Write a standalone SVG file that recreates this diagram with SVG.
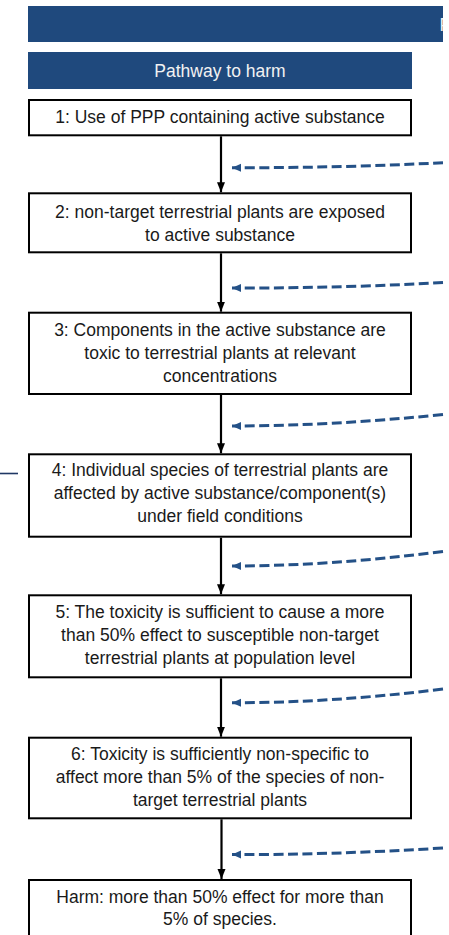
<svg xmlns="http://www.w3.org/2000/svg" width="449" height="935" viewBox="0 0 449 935">
<style>
  .box { fill: #ffffff; stroke: #000000; stroke-width: 2; }
  .banner { fill: #1f497d; }
  .t { font-family: "Liberation Sans", Arial, sans-serif; font-size: 17.5px; fill: #1a1a1a; text-anchor: middle; }
  .bt { font-family: "Liberation Sans", Arial, sans-serif; font-size: 17.5px; fill: #f2f2f2; text-anchor: middle; }
  .flow { stroke: #000000; stroke-width: 2.2; fill: none; marker-end: url(#ah); }
  .dash { stroke: #245187; stroke-width: 3; fill: none; stroke-dasharray: 10 4.5; marker-end: url(#dh); }
</style>
<defs>
  <marker id="ah" markerUnits="userSpaceOnUse" markerWidth="10" markerHeight="10" viewBox="0 0 10 10" refX="10" refY="5" orient="auto">
    <path d="M0,1 L10,5 L0,9 Z" fill="#000000"/>
  </marker>
  <marker id="dh" markerUnits="userSpaceOnUse" markerWidth="9" markerHeight="9" viewBox="0 0 9 9" refX="9" refY="4.5" orient="auto">
    <path d="M0,0.5 L9,4.5 L0,8.5 Z" fill="#245187"/>
  </marker>
  <clipPath id="topclip"><rect x="28" y="6" width="415" height="36"/></clipPath>
</defs>

<g id="top-banner">
  <rect class="banner" x="28" y="6" width="415" height="36"/>
  <text class="bt" x="439.5" y="30.5" style="text-anchor:start" clip-path="url(#topclip)">P</text>
</g>

<g id="pathway-header">
  <rect class="banner" x="28" y="52" width="384" height="37"/>
  <text class="bt" x="220" y="77">Pathway to harm</text>
</g>

<g id="step1">
  <rect class="box" x="29" y="100" width="382" height="35.3"/>
  <text class="t" x="220" y="123.3">1: Use of PPP containing active substance</text>
</g>

<g id="step2">
  <rect class="box" x="29" y="193.3" width="382" height="59"/>
  <text class="t" x="220" y="218.3">2: non-target terrestrial plants are exposed</text>
  <text class="t" x="220" y="241">to active substance</text>
</g>

<g id="step3">
  <rect class="box" x="29" y="312.7" width="382" height="81.3"/>
  <text class="t" x="220" y="335.5">3: Components in the active substance are</text>
  <text class="t" x="220" y="358.5">toxic to terrestrial plants at relevant</text>
  <text class="t" x="220" y="381.5">concentrations</text>
</g>

<g id="step4">
  <rect class="box" x="29" y="454.3" width="382" height="82.4"/>
  <text class="t" x="220" y="476">4: Individual species of terrestrial plants are</text>
  <text class="t" x="220" y="498.8">affected by active substance/component(s)</text>
  <text class="t" x="220" y="521.8">under field conditions</text>
</g>

<g id="step5">
  <rect class="box" x="29" y="595.3" width="382" height="82"/>
  <text class="t" x="220" y="618">5: The toxicity is sufficient to cause a more</text>
  <text class="t" x="220" y="641">than 50% effect to susceptible non-target</text>
  <text class="t" x="220" y="664">terrestrial plants at population level</text>
</g>

<g id="step6">
  <rect class="box" x="29" y="737.7" width="382" height="80.6"/>
  <text class="t" x="220" y="760">6: Toxicity is sufficiently non-specific to</text>
  <text class="t" x="220" y="783">affect more than 5% of the species of non-</text>
  <text class="t" x="220" y="806">target terrestrial plants</text>
</g>

<g id="harm">
  <rect class="box" x="29" y="880" width="382" height="62"/>
  <text class="t" x="220" y="902.5">Harm: more than 50% effect for more than</text>
  <text class="t" x="220" y="925">5% of species.</text>
</g>

<g id="connectors">
  <path class="flow" d="M221,136.3 L221,192.3"/>
  <path class="flow" d="M221,253.3 L221,311.7"/>
  <path class="flow" d="M221,395 L221,453.3"/>
  <path class="flow" d="M221,537.7 L221,594.3"/>
  <path class="flow" d="M221,678.3 L221,736.7"/>
  <path class="flow" d="M221.5,819.3 L221.5,879"/>

  <path class="dash" d="M443,162.7 Q340,168 232,167.7"/>
  <path class="dash" d="M443,282.5 Q340,288.3 232,288"/>
  <path class="dash" d="M443,414.5 Q330,426 232,426"/>
  <path class="dash" d="M443,551.5 Q330,566 232,566"/>
  <path class="dash" d="M443,689 Q330,703 232,702.7"/>
  <path class="dash" d="M443,848 Q330,855 232,854.5"/>

  <path d="M0,473.5 L18,473.5" stroke="#1f3864" stroke-width="1.6" fill="none"/>
</g>
</svg>
